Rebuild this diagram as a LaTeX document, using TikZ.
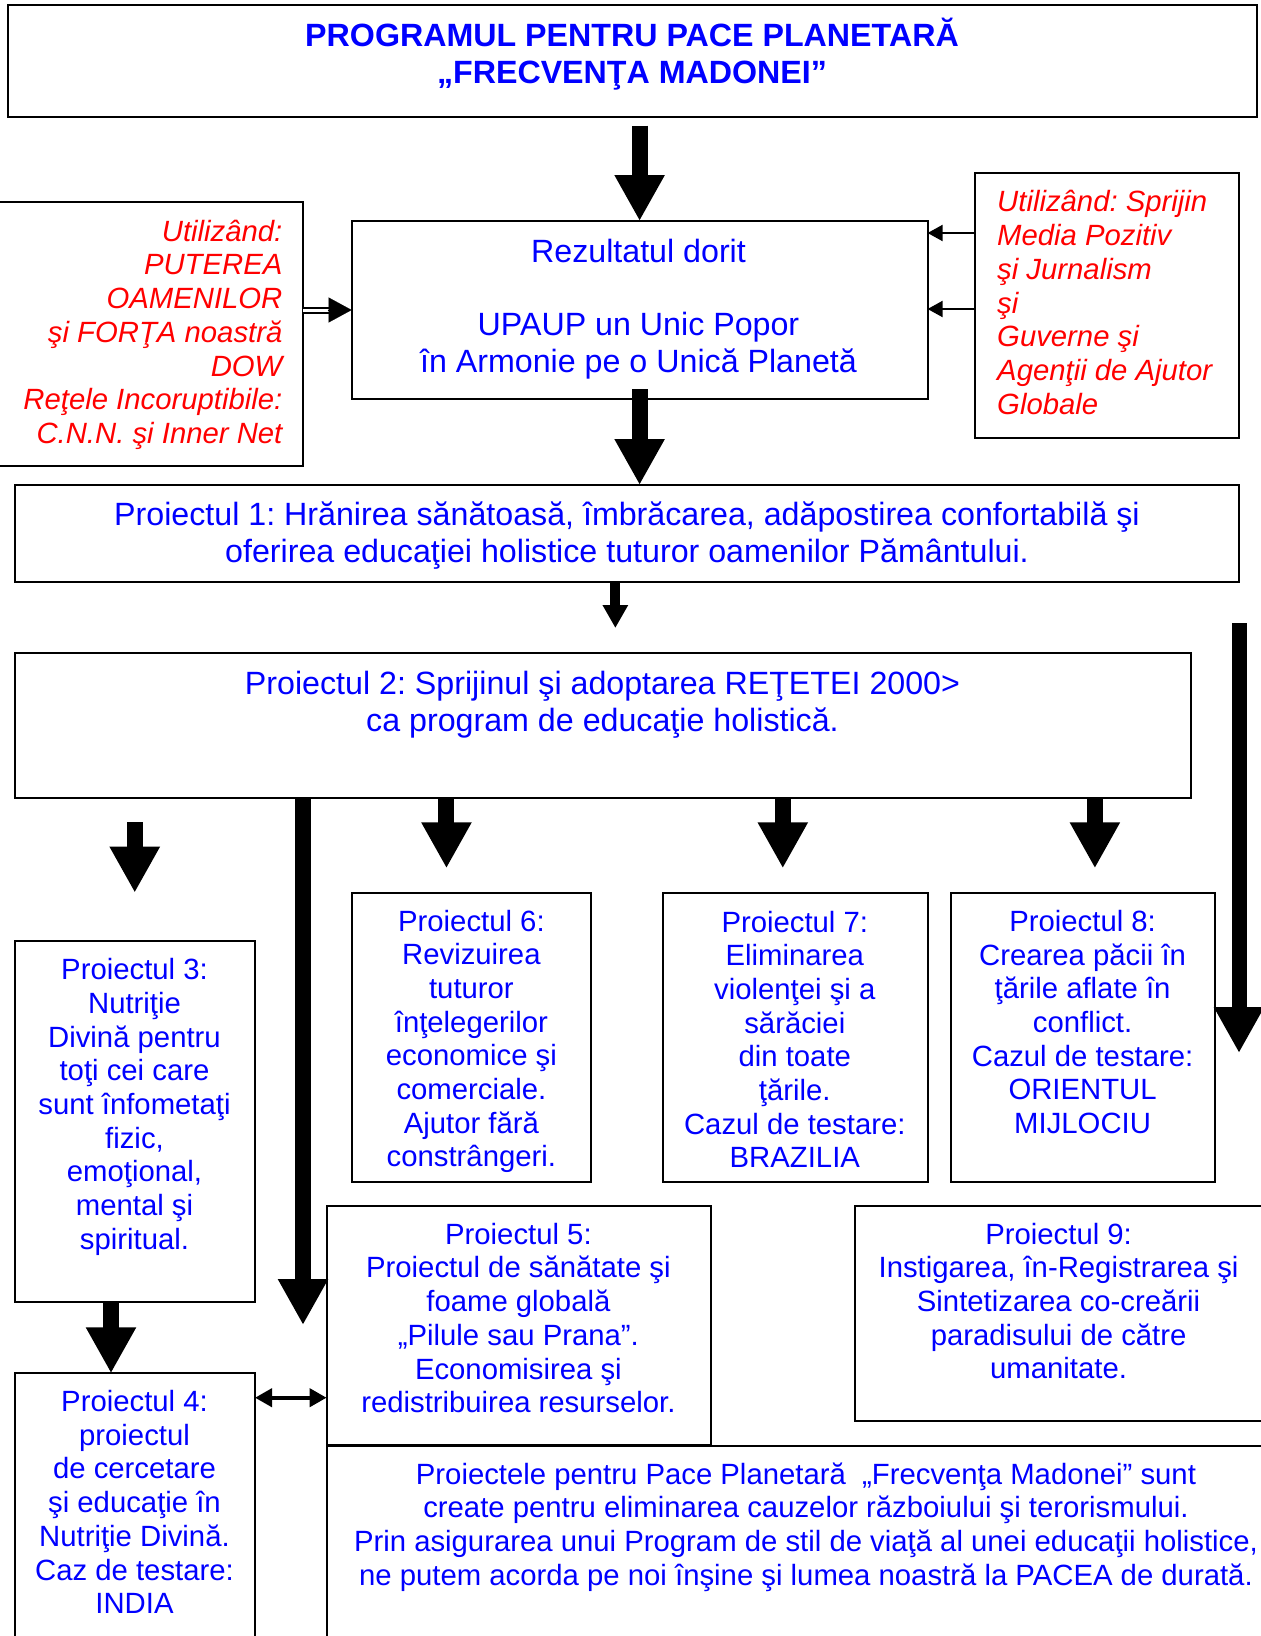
\documentclass[tikz,border=0pt]{standalone}
\usepackage{fontspec}
\setmainfont{Liberation Sans}
\usetikzlibrary{arrows.meta,calc}
\definecolor{tblue}{RGB}{0,0,255}
\definecolor{tred}{RGB}{255,0,0}
\frenchspacing
\begin{document}
\frenchspacing
\begin{tikzpicture}[x=1pt,y=-1pt,
  box/.style={draw, line width=2pt, inner sep=0pt, outer sep=0pt, rectangle},
  bt/.style={text=tblue, align=center, font=\fontsize{29.3}{33.7}\selectfont, inner sep=0pt},
  bigt/.style={text=tblue, align=center, font=\fontsize{32.2}{37}\selectfont, inner sep=0pt},
  redt/.style={text=tred, font=\fontsize{29.3}{33.7}\selectfont\itshape, inner sep=0pt},
  bigarrow/.style={line width=16pt, -{Triangle[width=47pt,length=46pt]}},
  midarrow/.style={line width=10pt, -{Triangle[width=24pt,length=23pt]}},
  thinarrow/.style={line width=2pt, -{Triangle[width=16pt,length=15pt]}},
  dblarrow/.style={line width=4pt, {Triangle[width=18pt,length=17pt]}-{Triangle[width=18pt,length=17pt]}},
]
\useasboundingbox (0,0) rectangle (1261,1636);
\clip (0,0) rectangle (1261,1636);
\fill[white] (0,0) rectangle (1261,1636);

% boxes
\node[box, minimum width=1248.6pt, minimum height=112pt] (title) at (632.3,61) {};
\node[box, minimum width=313pt, minimum height=264pt] (left) at (146.5,334) {};
\node[box, minimum width=576pt, minimum height=178pt] (rez) at (639.6,310) {};
\node[box, minimum width=264pt, minimum height=264.6pt] (right) at (1107,305.3) {};
\node[box, minimum width=1224.5pt, minimum height=96.5pt] (p1) at (626.75,533.25) {};
\node[box, minimum width=1176.2pt, minimum height=144.5pt] (p2) at (602.6,725.25) {};
\node[box, minimum width=239.7pt, minimum height=288.4pt] (p6) at (471.45,1037.5) {};
\node[box, minimum width=264.6pt, minimum height=288.4pt] (p7) at (795.3,1037.5) {};
\node[box, minimum width=263.8pt, minimum height=288.4pt] (p8) at (1082.9,1037.5) {};
\node[box, minimum width=240.5pt, minimum height=360.5pt] (p3) at (134.75,1121.25) {};
\node[box, minimum width=240.5pt, minimum height=286.7pt] (p4) at (134.75,1516.65) {};
\node[box, minimum width=384.4pt, minimum height=239.6pt] (p5) at (518.8,1325.5) {};
\node[box, minimum width=415pt, minimum height=215.3pt] (p9) at (1062.5,1313.35) {};
\node[box, minimum width=963.4pt, minimum height=214.5pt] (pb) at (808.3,1552.75) {};

% texts
\node[bigt, font=\fontsize{32.2}{37.5}\selectfont\bfseries] (ttitle) at (632,54) {PROGRAMUL PENTRU PACE PLANETARĂ\\„FRECVENŢA MADONEI”};
\node[redt, anchor=east, align=right] (tleft) at (282.6,334.7) {Utilizând:\\PUTEREA\\OAMENILOR\\şi FORŢA noastră\\DOW\\Reţele Incoruptibile:\\C.N.N. şi Inner Net};
\node[redt, anchor=west, align=left] (tright) at (997,302.5) {Utilizând: Sprijin\\Media Pozitiv\\şi Jurnalism\\şi\\Guverne şi\\Agenţii de Ajutor\\Globale};
\node[bigt, font=\fontsize{32.2}{36.5}\selectfont] (trez) at (638.5,309) {Rezultatul dorit\\[36.5pt]UPAUP un Unic Popor\\în Armonie pe o Unică Planetă};
\node[bigt] (tp1) at (627,536) {Proiectul 1: Hrănirea sănătoasă, îmbrăcarea, adăpostirea confortabilă şi\\oferirea educaţiei holistice tuturor oamenilor Pământului.};
\node[bigt] (tp2) at (602.5,704.5) {Proiectul 2: Sprijinul şi adoptarea REŢETEI 2000>\\ca program de educaţie holistică.};
\node[bt] (tp6) at (471.4,1041.4) {Proiectul 6:\\Revizuirea\\tuturor\\înţelegerilor\\economice şi\\comerciale.\\Ajutor fără\\constrângeri.};
\node[bt] (tp7) at (794.8,1039.4) {Proiectul 7:\\Eliminarea\\violenţei şi a\\sărăciei\\din toate\\ţările.\\Cazul de testare:\\BRAZILIA};
\node[bt] (tp8) at (1082.6,1022) {Proiectul 8:\\Crearea păcii în\\ţările aflate în\\conflict.\\Cazul de testare:\\ORIENTUL\\MIJLOCIU};
\node[bt] (tp3) at (134.5,1107) {Proiectul 3:\\Nutriţie\\Divină pentru\\toţi cei care\\sunt înfometaţi\\fizic,\\emoţional,\\mental şi\\spiritual.};
\node[bt] (tp5) at (518.4,1318) {Proiectul 5:\\Proiectul de sănătate şi\\foame globală\\„Pilule sau Prana”.\\Economisirea şi\\redistribuirea resurselor.};
\node[bt] (tp9) at (1058.6,1301) {Proiectul 9:\\Instigarea, în-Registrarea şi\\Sintetizarea co-creării\\paradisului de către\\umanitate.};
\node[bt] (tp4) at (134.5,1502) {Proiectul 4:\\proiectul\\de cercetare\\şi educaţie în\\Nutriţie Divină.\\Caz de testare:\\INDIA};
\node[bt] (tpb) at (806,1527) {Proiectele pentru Pace Planetară\ \ „Frecvenţa Madonei” sunt\\create pentru eliminarea cauzelor războiului şi terorismului.\\Prin asigurarea unui Program de stil de viaţă al unei educaţii holistice,\\ne putem acorda pe noi înşine şi lumea noastră la PACEA de durată.};

% coordinates
\coordinate (ra1) at (1239,623);
\coordinate (ra2) at (1239,1053);
\coordinate (la) at (303,1325);
\coordinate (dy) at (0,1397.7);
\coordinate (ry1) at (0,233);
\coordinate (ry2) at (0,309);

% connectors
\draw[bigarrow, shorten <=8.7pt] (rez.north |- title.south) -- (rez.north);
\draw[bigarrow, shorten <=-10pt] (rez.south) -- (rez.south |- p1.north);
\draw[midarrow, shorten >=25pt] ($(p1.south)+(-11.4,0)$) -- ($(p1.south |- p2.north)+(-11.4,0)$);
\draw[bigarrow, line width=15pt] (ra1) -- (ra2);
\draw[bigarrow, shorten >=25pt] ($(p6.north |- p2.south)+(-25,0)$) -- ($(p6.north)+(-25,0)$);
\draw[bigarrow, shorten >=25pt] ($(p7.north |- p2.south)+(-12.5,0)$) -- ($(p7.north)+(-12.5,0)$);
\draw[bigarrow, shorten >=25pt] ($(p8.north |- p2.south)+(12,0)$) -- ($(p8.north)+(12,0)$);
\draw[bigarrow, shorten <=24.5pt, shorten >=48.3pt] (p3.north |- p2.south) -- (p3.north);
\draw[bigarrow] (la |- p2.south) -- (la);
\draw[bigarrow] ($(p3.south)+(-23.75,0)$) -- ($(p4.north)+(-23.75,0)$);
\draw[dblarrow] (p4.east |- dy) -- (p5.west |- dy);
\draw[line width=2pt, double distance=3pt, shorten >=20pt] (left.east |- rez.west) -- (rez.west);
\draw[line width=0.1pt, -{Triangle[width=25pt,length=23pt]}] ($(rez.west)+(-24,0)$) -- (rez.west);
\draw[thinarrow] (right.west |- ry1) -- (rez.east |- ry1);
\draw[thinarrow] (right.west |- ry2) -- (rez.east |- ry2);
\end{tikzpicture}
\end{document}
